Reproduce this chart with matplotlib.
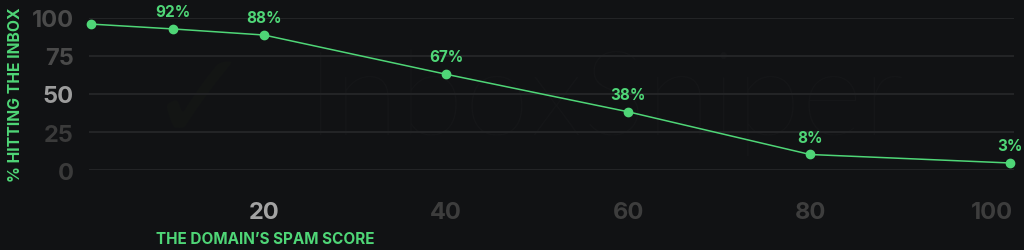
import matplotlib
matplotlib.use("Agg")
import matplotlib.pyplot as plt

# spam score vs share of mail landing in the inbox
spam_score = [1, 10, 20, 40, 60, 80, 102]
inbox_pct = [96, 92.8, 88.8, 63, 38.3, 10.2, 4.6]
point_labels = ["", "92%", "88%", "67%", "38%", "8%", "3%"]

x_ticks = [20, 40, 60, 80, 100]
y_ticks = [0, 25, 50, 75, 100]
x_tick_colors = ["#a3a3a3", "#3d3d3d", "#3d3d3d", "#3d3d3d", "#3d3d3d"]
y_tick_colors = ["#3a3a3a", "#3a3a3a", "#9c9c9c", "#4a4a4a", "#4a4a4a"]

bg = "#111214"
green = "#4fd677"
font = "Inter"

fig = plt.figure(figsize=(10.24, 2.51), dpi=100)
fig.patch.set_facecolor(bg)
ax = fig.add_axes([89/1024, 80/251, 925/1024, 152/251])
ax.set_facecolor(bg)

# faint watermark, kept under the line
ax.text(305/1024, 116/251, "InboxSniper", color="#151618", fontsize=86,
        family="Lato", fontweight="light", ha="left", va="baseline",
        transform=fig.transFigure, zorder=0)
ax.text(200/1024, 145/251, "\u2713", color="#131514", fontsize=90,
        family="DejaVu Sans", ha="center", va="center",
        transform=fig.transFigure, zorder=0)

ax.plot(spam_score, inbox_pct, color=green, lw=1.1, marker="o", ms=6,
        clip_on=False, zorder=3)
for x, y, lab in zip(spam_score, inbox_pct, point_labels):
    if lab:
        ax.annotate(lab, (x, y), xytext=(0, 12.5), textcoords="offset points",
                    ha="center", va="center", color=green, fontsize=11,
                    fontweight="bold", family=font, annotation_clip=False,
                    zorder=4)

ax.set_xlim(0.77, 102.4)
ax.set_ylim(0, 100)
ax.set_yticks(y_ticks)
ax.set_xticks(x_ticks)
ax.grid(axis="y", color="#232426", lw=1.5)
ax.grid(axis="x", visible=False)
ax.set_axisbelow(True)
ax.tick_params(length=0, labelsize=17)
ax.tick_params(axis="y", pad=11)
ax.tick_params(axis="x", pad=22)
for sp in ax.spines.values():
    sp.set_visible(False)
for lab, c in zip(ax.get_xticklabels(), x_tick_colors):
    lab.set_color(c)
    lab.set_fontweight("bold")
    lab.set_family(font)
for lab, c in zip(ax.get_yticklabels(), y_tick_colors):
    lab.set_color(c)
    lab.set_fontweight("bold")
    lab.set_family(font)

fig.text(16/1024, 1 - 95/251, "% HITTING THE INBOX", rotation=90, color=green,
         fontsize=11.3, fontweight="bold", family=font, ha="center", va="center")
fig.text(265/1024, 1 - 240/251, "THE DOMAIN\u2019S SPAM SCORE", color=green,
         fontsize=11, fontweight="bold", family=font, ha="center", va="center")

fig.savefig("out.png", dpi=100, facecolor=bg)
